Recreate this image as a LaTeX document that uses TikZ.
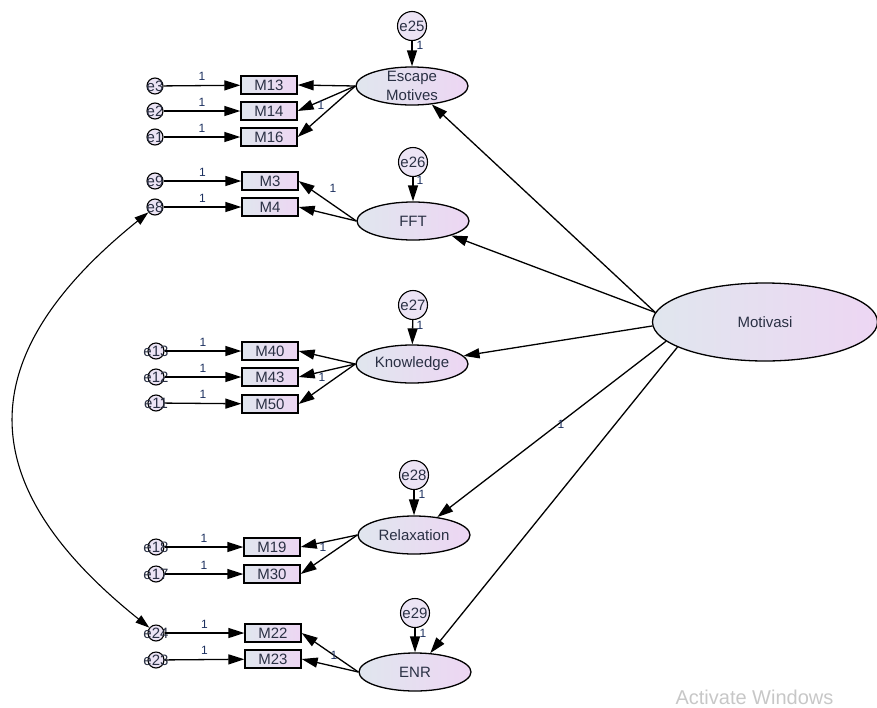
\documentclass[tikz,border=0pt]{standalone}
\usepackage{fontspec}
\setmainfont{Liberation Sans}
\usetikzlibrary{arrows.meta,shapes.geometric}
\definecolor{lblue}{RGB}{224,230,238}
\definecolor{lpurple}{RGB}{237,214,243}
\definecolor{errfill}{RGB}{236,228,245}
\definecolor{txt}{RGB}{42,48,68}
\definecolor{onecol}{RGB}{28,48,95}
\begin{document}
\begin{tikzpicture}[x=1pt,y=-1pt,
  every node/.style={font=\fontsize{15}{19}\selectfont, text=txt},
  obs/.style={draw, line width=1.3pt, minimum width=56pt, minimum height=18pt, inner sep=0pt, left color=lblue, right color=lpurple},
  lat/.style={ellipse, draw, line width=1.3pt, minimum width=112pt, minimum height=38pt, inner sep=0pt, left color=lblue, right color=lpurple},
  err/.style={circle, draw, line width=1.1pt, minimum size=16pt, inner sep=0pt, fill=errfill},
  dist/.style={circle, draw, line width=1.1pt, minimum size=29pt, inner sep=0pt, fill=errfill},
  reg/.style={line width=1.3pt, -{Triangle[length=16pt,width=10pt]}},
  wt/.style={font=\fontsize{12}{13}\selectfont, text=onecol, inner sep=1pt}]
        \useasboundingbox (0,0) rectangle (877,707);
        % latent variables
        \node[lat, minimum width=225pt, minimum height=78pt] (mot) at (765,322) {Motivasi};
        \node[lat, align=center, inner ysep=-3.5pt] (esc) at (412,86) {Escape\\Motives};
        \node[lat] (fft) at (413,221) {FFT};
        \node[lat] (know) at (412,364) {Knowledge};
        \node[lat] (relax) at (414,535) {Relaxation};
        \node[lat] (enr) at (415,672) {ENR};
        % disturbances
        \node[dist] (e25) at (412,26) {e25};
        \node[dist] (e26) at (413,162) {e26};
        \node[dist] (e27) at (413,305) {e27};
        \node[dist] (e28) at (414,475) {e28};
        \node[dist] (e29) at (415,613) {e29};
        % indicators
        \node[obs] (m13) at (269,85) {M13};
        \node[obs] (m14) at (269,111) {M14};
        \node[obs] (m16) at (269,137) {M16};
        \node[obs] (m3) at (270,181) {M3};
        \node[obs] (m4) at (270,207) {M4};
        \node[obs] (m40) at (270,351) {M40};
        \node[obs] (m43) at (270,377) {M43};
        \node[obs] (m50) at (270,404) {M50};
        \node[obs] (m19) at (272,547) {M19};
        \node[obs] (m30) at (272,574) {M30};
        \node[obs] (m22) at (273,633) {M22};
        \node[obs] (m23) at (273,659) {M23};
        % measurement errors
        \node[err, label=center:e3] (e3) at (155,86) {};
        \node[err, label=center:e2] (e2) at (155,111) {};
        \node[err, label=center:e1] (e1) at (155,137) {};
        \node[err, label=center:e9] (e9) at (155,181) {};
        \node[err, label=center:e8] (e8) at (155,207) {};
        \node[err, label=center:e13] (e13) at (156,351) {};
        \node[err, label=center:e12] (e12) at (156,377) {};
        \node[err, label=center:e11] (e11) at (156,403) {};
        \node[err, label=center:e18] (e18) at (156,547) {};
        \node[err, label=center:e17] (e17) at (156,574) {};
        \node[err, label=center:e24] (e24) at (156,633) {};
        \node[err, label=center:e23] (e23) at (156,660) {};
        % error -> indicator
        \draw[reg] (e3) -- node[wt, above=3pt] (w3) {1} (m13);
        \draw[reg] (e2) -- node[wt, above=3pt] (w2) {1} (m14);
        \draw[reg] (e1) -- node[wt, above=3pt] (w1) {1} (m16);
        \draw[reg] (e9) -- node[wt, above=3pt] (w9) {1} (m3);
        \draw[reg] (e8) -- node[wt, above=3pt] (w8) {1} (m4);
        \draw[reg] (e13) -- node[wt, above=3pt] (w13) {1} (m40);
        \draw[reg] (e12) -- node[wt, above=3pt] (w12) {1} (m43);
        \draw[reg] (e11) -- node[wt, above=3pt] (w11) {1} (m50);
        \draw[reg] (e18) -- node[wt, above=3pt] (w18) {1} (m19);
        \draw[reg] (e17) -- node[wt, above=3pt] (w17) {1} (m30);
        \draw[reg] (e24) -- node[wt, above=3pt] (w24) {1} (m22);
        \draw[reg] (e23) -- node[wt, above=3pt] (w23) {1} (m23);
        % latent -> indicator
        \draw[reg] (esc.west) -- (m13.east);
        \draw[reg] (esc.west) -- (m14.east);
        \draw[reg] (esc.west) -- (m16.east);
        \draw[reg] (fft.west) -- (m3.east);
        \draw[reg] (fft.west) -- (m4.east);
        \draw[reg] (know.west) -- (m40.east);
        \draw[reg] (know.west) -- (m43.east);
        \draw[reg] (know.west) -- (m50.east);
        \draw[reg] (relax.west) -- (m19.east);
        \draw[reg] (relax.west) -- (m30.east);
        \draw[reg] (enr.west) -- (m22.east);
        \draw[reg] (enr.west) -- (m23.east);
        \node[wt] (wesc) at (321,105) {1};
        \node[wt] (wfft) at (333,188) {1};
        \node[wt] (wknow) at (322,377) {1};
        \node[wt] (wrelax) at (323,547) {1};
        \node[wt] (wenr) at (334,655) {1};
        % disturbance -> latent
        \draw[reg] (e25) -- (esc);
        \draw[reg] (e26) -- (fft);
        \draw[reg] (e27) -- (know);
        \draw[reg] (e28) -- (relax);
        \draw[reg] (e29) -- (enr);
        \node[wt] (w25) at (420,45) {1};
        \node[wt] (w26) at (420,180) {1};
        \node[wt] (w27) at (420,325) {1};
        \node[wt] (w28) at (422,494) {1};
        \node[wt] (w29) at (423,633) {1};
        % second order
        \draw[reg] (mot.175) -- (esc);
        \draw[reg] (mot.175) -- (fft);
        \draw[reg] (mot.182) -- (know);
        \draw[reg] (mot.191) -- (relax);
        \draw[reg] (mot.196) -- (enr);
        \node[wt] (wmot) at (561,424) {1};
        % covariance
        \draw[line width=1.1pt, {Triangle[length=14pt,width=9pt]}-{Triangle[length=14pt,width=9pt]}]
            (e8) .. controls (-30,356) and (-30,484) .. (e24);
        % watermark
        \node[font=\fontsize{20}{22}\selectfont, text=black!22, anchor=base west] (wm) at (672,704) {Activate Windows};
\end{tikzpicture}
\end{document}
